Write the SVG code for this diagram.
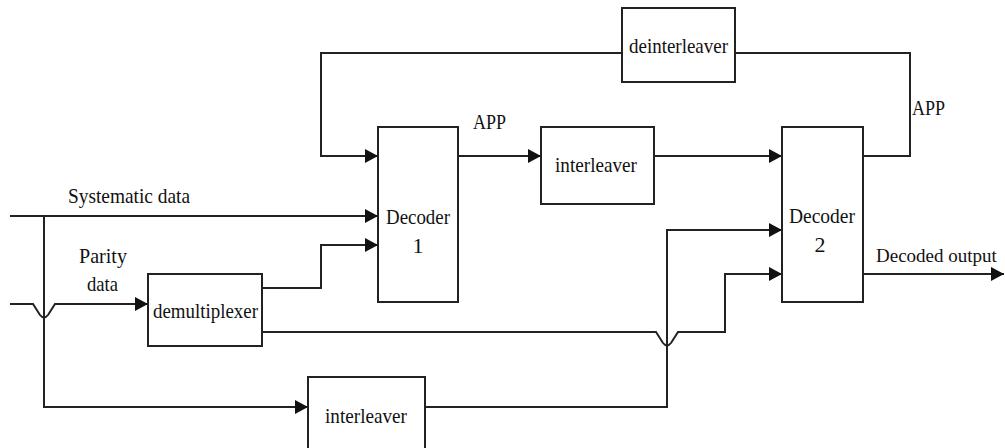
<svg xmlns="http://www.w3.org/2000/svg" width="1005" height="448" viewBox="0 0 1005 448">
<defs>
<marker id="arr" markerUnits="userSpaceOnUse" markerWidth="14" markerHeight="16" refX="13" refY="7" orient="auto">
<path d="M0,0 L13,7 L0,14 z" fill="#111"/>
</marker>
<style>
.box{fill:#fff;stroke:#222;stroke-width:2}
.ln{fill:none;stroke:#222;stroke-width:2}
text{font-family:"Liberation Serif","Times New Roman",serif;font-size:22px;fill:#111}
</style>
</defs>
<rect width="1005" height="448" fill="#fff"/>
<g id="connectors">
<path class="ln" d="M10,216 H378" marker-end="url(#arr)"/>
<path class="ln" d="M44,216 V407 H308" marker-end="url(#arr)"/>
<path class="ln" d="M10,304 H33 L40,315 Q44,320 48,315 L55,304 H148" marker-end="url(#arr)"/>
<path class="ln" d="M262,288 H321 V245 H378" marker-end="url(#arr)"/>
<path class="ln" d="M262,332 H656 L663,343 Q667,348 671,343 L678,332 H725 V274 H782" marker-end="url(#arr)"/>
<path class="ln" d="M425,407 H667 V230 H782" marker-end="url(#arr)"/>
<path class="ln" d="M458,156 H541" marker-end="url(#arr)"/>
<path class="ln" d="M654,156 H782" marker-end="url(#arr)"/>
<path class="ln" d="M863,156 H910 V53 H735"/>
<path class="ln" d="M622,53 H321 V156 H378" marker-end="url(#arr)"/>
<path class="ln" d="M863,274 H1004" marker-end="url(#arr)"/>
</g>
<g id="labels">
<text x="68" y="203" textLength="122" lengthAdjust="spacingAndGlyphs">Systematic data</text>
<text x="79" y="263" textLength="48" lengthAdjust="spacingAndGlyphs">Parity</text>
<text x="87" y="291" textLength="31" lengthAdjust="spacingAndGlyphs">data</text>
<text x="473" y="129" textLength="33" lengthAdjust="spacingAndGlyphs">APP</text>
<text x="912" y="115" textLength="33" lengthAdjust="spacingAndGlyphs">APP</text>
<text x="876" y="262" style="font-size:19px">Decoded output</text>
</g>
<g id="demultiplexer">
<rect class="box" x="148" y="274" width="114" height="72"/>
<text x="153" y="318" textLength="105" lengthAdjust="spacingAndGlyphs">demultiplexer</text>
</g>
<g id="decoder1">
<rect class="box" x="378" y="127" width="80" height="175"/>
<text x="386" y="224" textLength="64" lengthAdjust="spacingAndGlyphs">Decoder</text>
<text x="418" y="253" text-anchor="middle">1</text>
</g>
<g id="interleaver1">
<rect class="box" x="541" y="127" width="113" height="77"/>
<text x="555" y="172" textLength="82" lengthAdjust="spacingAndGlyphs">interleaver</text>
</g>
<g id="deinterleaver">
<rect class="box" x="622" y="8" width="113" height="74"/>
<text x="629" y="53" textLength="99" lengthAdjust="spacingAndGlyphs">deinterleaver</text>
</g>
<g id="decoder2">
<rect class="box" x="782" y="127" width="81" height="175"/>
<text x="789" y="223" textLength="66" lengthAdjust="spacingAndGlyphs">Decoder</text>
<text x="820" y="252" text-anchor="middle">2</text>
</g>
<g id="interleaver2">
<rect class="box" x="308" y="377" width="117" height="76"/>
<text x="325" y="423" textLength="82" lengthAdjust="spacingAndGlyphs">interleaver</text>
</g>
</svg>
